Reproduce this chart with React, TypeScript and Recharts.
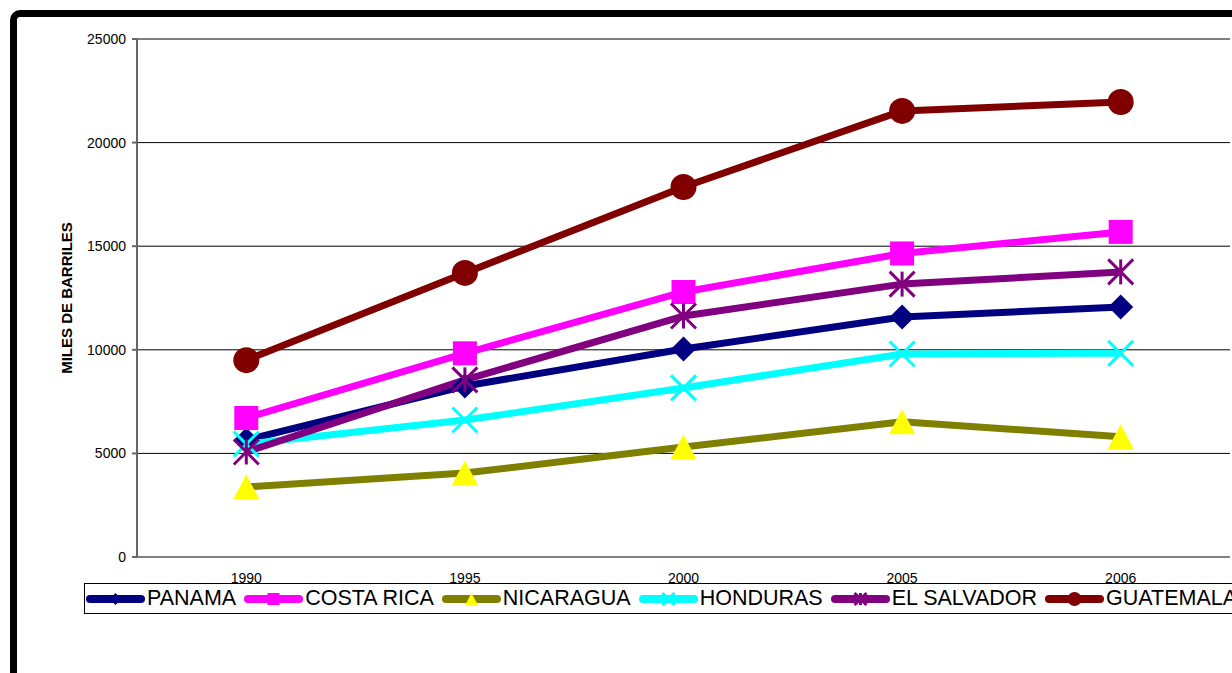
import React from "react";
import { CartesianGrid, Line, LineChart, ReferenceLine, XAxis, YAxis } from "recharts";

const years = ["1990", "1995", "2000", "2005", "2006"];
const panama = [5650, 8250, 10040, 11580, 12070];
const costaRica = [6710, 9830, 12790, 14650, 15690];
const nicaragua = [3380, 4050, 5310, 6530, 5800];
const honduras = [5450, 6610, 8160, 9800, 9830];
const elSalvador = [5070, 8550, 11630, 13170, 13760];
const guatemala = [9500, 13710, 17860, 21530, 21960];
const yTicks = [0, 5000, 10000, 15000, 20000, 25000];
const boundaryTicks = [0, 1, 2, 3, 4, 5];

type Kind = "diamond" | "square" | "triangle" | "cross" | "star" | "circle";

const series: { name: string; values: number[]; color: string; fill: string; marker: Kind }[] = [
  { name: "PANAMA", values: panama, color: "#000080", fill: "#000080", marker: "diamond" },
  { name: "COSTA RICA", values: costaRica, color: "#FF00FF", fill: "#FF00FF", marker: "square" },
  { name: "NICARAGUA", values: nicaragua, color: "#808000", fill: "#FFFF00", marker: "triangle" },
  { name: "HONDURAS", values: honduras, color: "#00FFFF", fill: "#00FFFF", marker: "cross" },
  { name: "EL SALVADOR", values: elSalvador, color: "#800080", fill: "#800080", marker: "star" },
  { name: "GUATEMALA", values: guatemala, color: "#800000", fill: "#800000", marker: "circle" },
];

const data = years.map((year, i) => {
  const row: Record<string, string | number> = { year };
  series.forEach((s) => (row[s.name] = s.values[i]));
  return row;
});

function Marker({ kind, cx, cy, r, fill }: { kind: Kind; cx: number; cy: number; r: number; fill: string }) {
  switch (kind) {
    case "diamond":
      return <polygon points={`${cx},${cy - r} ${cx + r},${cy} ${cx},${cy + r} ${cx - r},${cy}`} fill={fill} />;
    case "square":
      return <rect x={cx - r} y={cy - r} width={2 * r} height={2 * r} fill={fill} />;
    case "triangle":
      return <polygon points={`${cx},${cy - r} ${cx + r * 1.05},${cy + r} ${cx - r * 1.05},${cy + r}`} fill={fill} />;
    case "cross":
      return (
        <g stroke={fill} strokeWidth={3}>
          <line x1={cx - r} y1={cy - r} x2={cx + r} y2={cy + r} />
          <line x1={cx - r} y1={cy + r} x2={cx + r} y2={cy - r} />
        </g>
      );
    case "star":
      return (
        <g stroke={fill} strokeWidth={3}>
          <line x1={cx - r} y1={cy - r} x2={cx + r} y2={cy + r} />
          <line x1={cx - r} y1={cy + r} x2={cx + r} y2={cy - r} />
          <line x1={cx} y1={cy - r} x2={cx} y2={cy + r} />
        </g>
      );
    default:
      return <circle cx={cx} cy={cy} r={r} fill={fill} />;
  }
}

function ChartLegend() {
  return (
    <div
      style={{
        position: "absolute",
        left: 84,
        top: 583,
        width: 1200,
        height: 31,
        boxSizing: "border-box",
        border: "1px solid #000",
        background: "#fff",
        display: "flex",
        alignItems: "center",
        paddingLeft: 1,
        fontSize: 21.5,
        whiteSpace: "nowrap",
        color: "#000",
      }}
    >
      {series.map((s) => (
        <div key={s.name} style={{ display: "flex", alignItems: "center", marginRight: 8 }}>
          <svg width={59} height={28}>
            <line x1={4} x2={55} y1={14} y2={14} stroke={s.color} strokeWidth={8} strokeLinecap="round" />
            <Marker kind={s.marker} cx={29.5} cy={14} r={s.marker === "circle" ? 7 : 6} fill={s.fill} />
          </svg>
          <span style={{ marginLeft: 2 }}>{s.name}</span>
        </div>
      ))}
    </div>
  );
}

export default function App() {
  return (
    <div
      style={{
        position: "absolute",
        left: 0,
        top: 0,
        width: 1232,
        height: 673,
        overflow: "hidden",
        background: "#fff",
        fontFamily: "Arial, 'Liberation Sans', sans-serif",
      }}
    >
      <div
        style={{
          position: "absolute",
          left: 10,
          top: 10,
          width: 1300,
          height: 720,
          boxSizing: "border-box",
          border: "7px solid #000",
          borderRadius: 10,
        }}
      />
      <div style={{ position: "absolute", left: 0, top: 0 }}>
        <LineChart width={1232} height={673} data={data} margin={{ top: 39, right: 2, bottom: 86, left: -4 }}>
          <CartesianGrid xAxisId="cat" vertical={false} stroke="#000" />
          <XAxis
            xAxisId="bounds"
            type="number"
            domain={[0, 5]}
            ticks={boundaryTicks}
            tickFormatter={() => ""}
            height={0}
            tickSize={6}
            stroke="#555"
            strokeWidth={2}
            allowDataOverflow
          />
          <XAxis
            xAxisId="cat"
            dataKey="year"
            scale="band"
            height={30}
            axisLine={false}
            tickLine={false}
            tickSize={6}
            tickMargin={10}
            interval={0}
            tick={{ fill: "#000", fontSize: 14 }}
          />
          <YAxis
            width={141}
            domain={[0, 25000]}
            ticks={yTicks}
            interval={0}
            tickSize={5}
            tickMargin={6}
            stroke="#666"
            strokeWidth={2}
            tick={{ fill: "#000", fontSize: 14 }}
            allowDataOverflow
            label={{
              value: "MILES DE BARRILES",
              angle: -90,
              position: "center",
              fontSize: 15,
              fontWeight: "bold",
              fill: "#000",
            }}
          />
          <ReferenceLine xAxisId="bounds" x={5} stroke="#888" strokeWidth={2} />
          {series.map((s) => (
            <Line
              key={s.name}
              xAxisId="cat"
              type="linear"
              dataKey={s.name}
              stroke={s.color}
              strokeWidth={7}
              strokeLinejoin="round"
              activeDot={false}
              isAnimationActive={false}
              dot={(p: any) => (
                <g key={`${s.name}-${p.index}`}>
                  <Marker
                    kind={s.marker}
                    cx={p.cx}
                    cy={p.cy}
                    r={s.marker === "square" ? 12 : s.marker === "circle" ? 13 : 12.5}
                    fill={s.fill}
                  />
                </g>
              )}
            />
          ))}
        </LineChart>
      </div>
      <ChartLegend />
    </div>
  );
}
